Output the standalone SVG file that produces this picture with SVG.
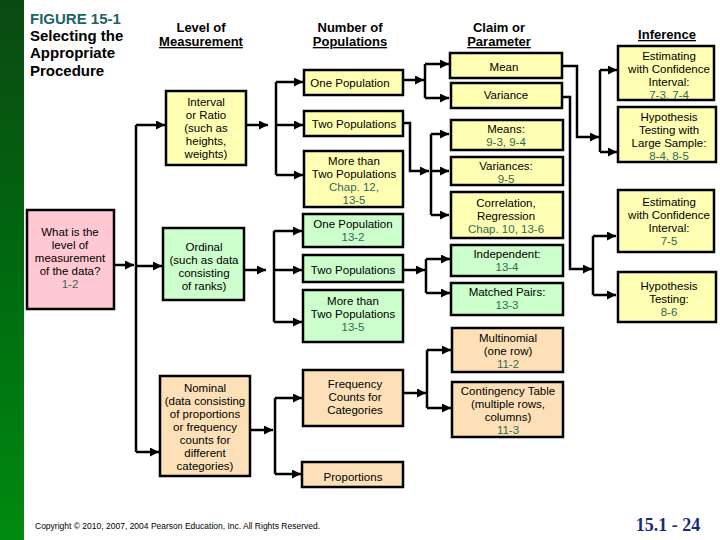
<svg xmlns="http://www.w3.org/2000/svg" width="720" height="540" viewBox="0 0 720 540">
<defs>
<linearGradient id="bar" x1="0" y1="0" x2="0" y2="1"><stop offset="0" stop-color="#0b4a12"/><stop offset="0.5" stop-color="#006a10"/><stop offset="1" stop-color="#008a10"/></linearGradient>
<marker id="ah" viewBox="0 0 10 10" refX="10" refY="5" markerWidth="3.6" markerHeight="3.6" orient="auto"><path d="M0,0L10,5L0,10z" fill="#000"/></marker>
</defs>
<style>
.b{stroke:#000;stroke-width:2.5}
.y{fill:#ffffb3}.g{fill:#ccffcc}.o{fill:#fde0b8}.p{fill:#ffc8d2}
text{font-family:"Liberation Sans",Arial,sans-serif;font-size:11.5px;text-anchor:middle;fill:#000}
.n{fill:#2e6b4f}
.h{font-weight:bold;font-size:13px}
.c path{fill:none;stroke:#000;stroke-width:2.5}
.a{marker-end:url(#ah)}
</style>
<rect width="720" height="540" fill="#fff"/>
<rect x="0" y="0" width="24" height="540" fill="url(#bar)"/>
<g id="title">
<text x="30" y="24" style="text-anchor:start;fill:#1c6464;font-weight:bold;font-size:15px">FIGURE 15-1</text>
<text x="30" y="41" style="text-anchor:start;font-weight:bold;font-size:15px">Selecting the</text>
<text x="30" y="58" style="text-anchor:start;font-weight:bold;font-size:15px">Appropriate</text>
<text x="30" y="76" style="text-anchor:start;font-weight:bold;font-size:15px">Procedure</text>
</g>
<g id="headers">
<text class="h" x="201" y="32">Level of</text><text class="h" x="201" y="46" text-decoration="underline">Measurement</text>
<text class="h" x="350" y="32">Number of</text><text class="h" x="350" y="46" text-decoration="underline">Populations</text>
<text class="h" x="499" y="32">Claim  or</text><text class="h" x="499" y="46" text-decoration="underline">Parameter</text>
<text class="h" x="667" y="39" text-decoration="underline">Inference</text>
</g>
<g class="c">
<path class="a" d="M114,265H134"/>
<path d="M136,125V452"/>
<path class="a" d="M136,125H165"/><path class="a" d="M136,266H162"/><path class="a" d="M136,452H159"/>
<path class="a" d="M246,125H268"/><path d="M276,82V175"/>
<path class="a" d="M276,82H303"/><path class="a" d="M276,125H303"/><path class="a" d="M276,175H303"/>
<path class="a" d="M244,270H266"/><path d="M274,231V322"/>
<path class="a" d="M274,231H302"/><path class="a" d="M274,270H302"/><path class="a" d="M274,322H302"/>
<path class="a" d="M250,430H273"/><path d="M275,398V474"/>
<path class="a" d="M275,398H302"/><path class="a" d="M275,474H301"/>
<path class="a" d="M403,80H424"/><path d="M425,64V98"/>
<path class="a" d="M425,64H449"/><path class="a" d="M425,98H449"/>
<path class="a" d="M403,123H410V171H429"/><path d="M431,134V215"/>
<path class="a" d="M431,134H449"/><path class="a" d="M431,171H449"/><path class="a" d="M431,215H449"/>
<path class="a" d="M403,270H425"/><path d="M426,259V293"/>
<path class="a" d="M426,259H450"/><path class="a" d="M426,293H450"/>
<path class="a" d="M403,393H426"/><path d="M427,350V408"/>
<path class="a" d="M427,350H451"/><path class="a" d="M427,408H451"/>
<path class="a" d="M562,66H577V137H599"/><path d="M600,70V152"/>
<path class="a" d="M600,70H617"/><path class="a" d="M600,152H617"/>
<path class="a" d="M562,97H570V269H592"/><path d="M593,236V295"/>
<path class="a" d="M593,236H616"/><path class="a" d="M593,295H616"/>
</g>
<g id="what"><rect class="b p" x="27" y="210" width="87" height="99"/><text x="70" y="236">What is the</text><text x="70" y="249">level of</text><text x="70" y="262">measurement</text><text x="70" y="275">of the data?</text><text class="n" x="70" y="288">1-2</text></g>
<g id="interval"><rect class="b y" x="166" y="91" width="80" height="74"/><text x="206" y="106">Interval</text><text x="206" y="119">or Ratio</text><text x="206" y="132">(such as</text><text x="206" y="145">heights,</text><text x="206" y="158">weights)</text></g>
<g id="ordinal"><rect class="b g" x="163" y="228" width="81" height="72"/><text x="204" y="251">Ordinal</text><text x="204" y="264">(such as data</text><text x="204" y="277">consisting</text><text x="204" y="290">of  ranks)</text></g>
<g id="nominal"><rect class="b o" x="160" y="376" width="90" height="100"/><text x="205" y="392">Nominal</text><text x="205" y="405">(data consisting</text><text x="205" y="418">of proportions</text><text x="205" y="431">or frequency</text><text x="205" y="444">counts for</text><text x="205" y="457">different</text><text x="205" y="470">categories)</text></g>
<g id="p1"><rect class="b y" x="304" y="70" width="99" height="25"/><text x="350" y="87">One Population</text></g>
<g id="p2"><rect class="b y" x="304" y="111" width="99" height="25"/><text x="354" y="128">Two Populations</text></g>
<g id="p3"><rect class="b y" x="304" y="151" width="99" height="56"/><text x="354" y="165">More than</text><text x="354" y="178">Two Populations</text><text class="n" x="354" y="191">Chap. 12,</text><text class="n" x="354" y="204">13-5</text></g>
<g id="o1"><rect class="b g" x="303" y="214" width="100" height="33"/><text x="353" y="228">One Population</text><text class="n" x="353" y="241">13-2</text></g>
<g id="o2"><rect class="b g" x="303" y="255" width="100" height="27"/><text x="353" y="274">Two Populations</text></g>
<g id="o3"><rect class="b g" x="303" y="290" width="100" height="52"/><text x="353" y="305">More than</text><text x="353" y="318">Two Populations</text><text class="n" x="353" y="331">13-5</text></g>
<g id="freq"><rect class="b o" x="303" y="370" width="100" height="56"/><text x="355" y="388">Frequency</text><text x="355" y="401">Counts for</text><text x="355" y="414">Categories</text></g>
<g id="prop"><rect class="b o" x="302" y="462" width="101" height="25"/><text x="353" y="481">Proportions</text></g>
<g id="mean"><rect class="b y" x="450" y="53" width="112" height="25"/><text x="504" y="71">Mean</text></g>
<g id="var"><rect class="b y" x="451" y="83" width="111" height="25"/><text x="506" y="99">Variance</text></g>
<g id="means"><rect class="b y" x="451" y="120" width="112" height="30"/><text x="506" y="133">Means:</text><text class="n" x="506" y="146">9-3, 9-4</text></g>
<g id="vars"><rect class="b y" x="451" y="157" width="112" height="28"/><text x="506" y="170">Variances:</text><text class="n" x="506" y="183">9-5</text></g>
<g id="corr"><rect class="b y" x="451" y="192" width="112" height="46"/><text x="506" y="207">Correlation,</text><text x="506" y="220">Regression</text><text class="n" x="506" y="233">Chap. 10,  13-6</text></g>
<g id="indep"><rect class="b g" x="451" y="245" width="112" height="31"/><text x="507" y="258">Independent:</text><text class="n" x="507" y="271">13-4</text></g>
<g id="matched"><rect class="b g" x="451" y="283" width="112" height="32"/><text x="507" y="296">Matched Pairs:</text><text class="n" x="507" y="309">13-3</text></g>
<g id="multi"><rect class="b o" x="452" y="328" width="111" height="44"/><text x="508" y="342">Multinomial</text><text x="508" y="355">(one  row)</text><text class="n" x="508" y="368">11-2</text></g>
<g id="cont"><rect class="b o" x="452" y="382" width="111" height="55"/><text x="508" y="395">Contingency Table</text><text x="508" y="408">(multiple  rows,</text><text x="508" y="421">columns)</text><text class="n" x="508" y="434">11-3</text></g>
<g id="ci1"><rect class="b y" x="618" y="46" width="96" height="54"/><text x="669" y="60">Estimating</text><text x="669" y="73">with Confidence</text><text x="669" y="86">Interval:</text><text class="n" x="669" y="99">7-3, 7-4</text></g>
<g id="ht1"><rect class="b y" x="618" y="107" width="98" height="55"/><text x="669" y="121">Hypothesis</text><text x="669" y="134">Testing with</text><text x="669" y="147">Large Sample:</text><text class="n" x="669" y="160">8-4, 8-5</text></g>
<g id="ci2"><rect class="b y" x="618" y="190" width="96" height="62"/><text x="669" y="206">Estimating</text><text x="669" y="219">with Confidence</text><text x="669" y="232">Interval:</text><text class="n" x="669" y="245">7-5</text></g>
<g id="ht2"><rect class="b y" x="618" y="272" width="98" height="50"/><text x="669" y="290">Hypothesis</text><text x="669" y="303">Testing:</text><text class="n" x="669" y="316">8-6</text></g>
<text x="35" y="529" style="text-anchor:start;font-size:8.5px">Copyright © 2010, 2007, 2004 Pearson Education, Inc. All Rights Reserved.</text>
<text x="668" y="531" style="font-family:'Liberation Serif',serif;font-weight:bold;font-size:18px;fill:#1a2a7a">15.1 - 24</text>
</svg>
